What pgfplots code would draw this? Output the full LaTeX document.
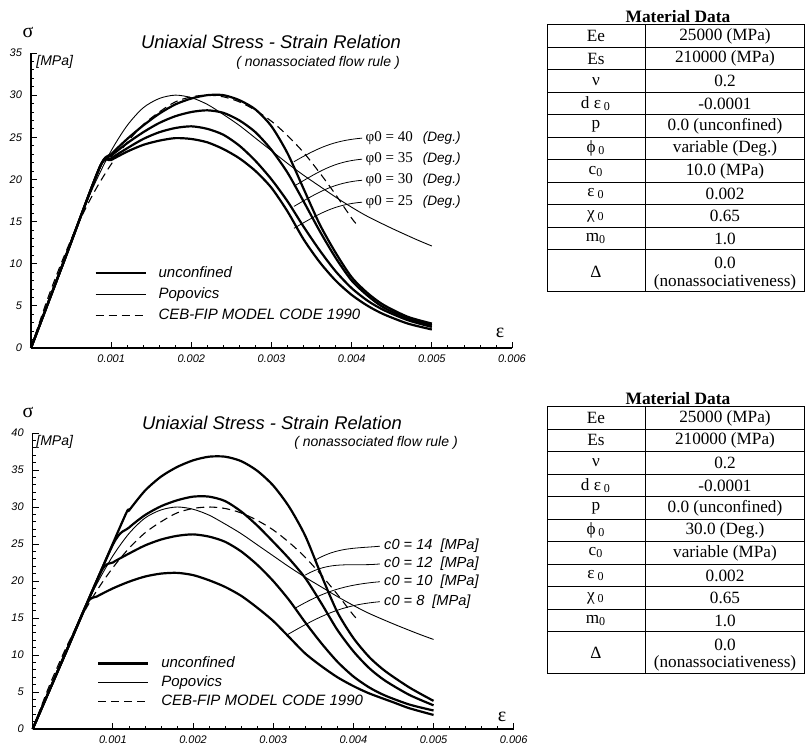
\documentclass[border=0pt]{standalone}
\usepackage{pgfplots}
\pgfplotsset{compat=1.18}
\usepackage{pgfplotstable}
\usepackage{fontspec}
\setmainfont{Liberation Serif}
\setsansfont{Liberation Sans}
\newcommand{\fs}[1]{\fontsize{#1}{#1}\selectfont}

% Popovics and CEB-FIP curves are the same in both panels
\pgfplotstableread{
e s
0 0
0.0002 5.2
0.0004 10.3
0.0006 15.2
0.0008 19.6
0.001 23.4
0.0012 26.4
0.0014 28.5
0.0016 29.6
0.0018 30.0
0.002 29.7
0.0022 28.9
0.0024 27.7
0.0026 26.4
0.0028 24.9
0.003 23.4
0.0032 21.9
0.0034 20.5
0.0036 19.2
0.0038 17.9
0.004 16.7
0.0042 15.6
0.0045 14.2
0.0048 12.9
0.005 12.1
}\popovics

\pgfplotstableread{
e s
0 0
0.0002 5.65
0.0004 10.6
0.0006 15.0
0.0008 18.7
0.001 21.8
0.0012 24.4
0.0014 26.5
0.0016 28.0
0.0018 29.2
0.002 29.8
0.0022 30.0
0.0024 29.8
0.0026 29.2
0.0028 28.2
0.003 26.9
0.0032 25.2
0.0034 23.2
0.0036 20.8
0.0038 18.2
0.004 15.4
0.00407 14.6
}\cebfip

\tikzset{lead/.style={black, line width=0.4pt}}
\pgfplotsset{
  stressaxis/.style={
    scale only axis, width=240.5pt,
    xmin=0, xmax=0.006, ymin=0,
    axis lines=left, axis line style={-, line width=0.6pt},
    xtick={0.001,0.002,0.003,0.004,0.005,0.006},
    xticklabels={0.001,0.002,0.003,0.004,0.005,0.006},
    scaled x ticks=false,
    minor x tick num=4, minor y tick num=4,
    tick align=inside,
    tick style={black, line width=0.4pt},
    major tick length=3pt, minor tick length=1.5pt,
    ticklabel style={font=\sffamily\itshape\fs{5.5}},
    yticklabel style={xshift=-1pt},
    clip=false,
    legend style={draw=none, fill=none, inner sep=0pt,
      font=\sffamily\itshape\fs{7.5},
      nodes={inner sep=1pt, text height=5.5pt, text depth=1.5pt},
      row sep=1.5pt,
      /tikz/every odd column/.append style={column sep=5pt}},
    legend image code/.code={\draw[#1] (0pt,0pt) -- (25pt,0pt);},
    legend cell align=left,
  },
  unconf/.style={black, line width=1.1pt, smooth, tension=0.45},
  popov/.style={black, line width=0.45pt, smooth},
  ceb/.style={black, line width=0.55pt, dash pattern=on 4pt off 2.5pt, smooth},
}

\begin{document}
\begin{tikzpicture}
\useasboundingbox (0,0) rectangle (402.5pt,375.5pt);

% ---------- upper panel: friction angle varies ----------
\begin{axis}[stressaxis, at={(15.5pt,201.5pt)}, anchor=south west,
  height=147.5pt, ymax=35,
  ytick={0,5,10,15,20,25,30,35}, yticklabels={0,5,10,15,20,25,30,35},
  legend style={at={(0.131,0.285)}, anchor=north west}]
% phi0 = 40
\addplot[unconf] coordinates {(0,0) (0.0004,10) (0.00086,21.5) (0.001,23.0) (0.0012,24.8) (0.0014,26.4) (0.0016,27.8) (0.0018,28.9) (0.002,29.6) (0.0022,30.0) (0.0024,30.0) (0.0026,29.4) (0.0028,28.3) (0.003,26.3) (0.0032,23.1) (0.0034,18.9) (0.0036,14.7) (0.0038,11.3) (0.004,8.4) (0.0042,6.5) (0.0044,5.1) (0.0047,3.7) (0.005,2.9)};
\addlegendentry{unconfined}
% phi0 = 35
\addplot[unconf, forget plot] coordinates {(0,0) (0.0004,10) (0.00086,21.5) (0.001,22.8) (0.0012,24.3) (0.0014,25.6) (0.0016,26.7) (0.0018,27.5) (0.002,28.0) (0.0022,28.2) (0.0024,27.9) (0.0026,27.0) (0.0028,25.6) (0.003,23.5) (0.0032,20.8) (0.0034,17.4) (0.0036,13.9) (0.0038,10.7) (0.004,8.0) (0.0042,6.2) (0.0044,4.8) (0.0047,3.5) (0.005,2.7)};
% phi0 = 30
\addplot[unconf, forget plot] coordinates {(0,0) (0.0004,10) (0.00086,21.5) (0.001,22.5) (0.0012,23.7) (0.0014,24.8) (0.0016,25.6) (0.0018,26.1) (0.002,26.3) (0.0022,26.0) (0.0024,25.3) (0.0026,24.0) (0.0028,22.2) (0.003,20.0) (0.0032,17.4) (0.0034,14.4) (0.0036,11.6) (0.0038,9.1) (0.004,7.1) (0.0042,5.6) (0.0044,4.5) (0.0047,3.3) (0.005,2.5)};
% phi0 = 25
\addplot[unconf, forget plot] coordinates {(0,0) (0.0004,10) (0.00086,21.5) (0.001,22.3) (0.0012,23.3) (0.0014,24.1) (0.0016,24.6) (0.0018,24.9) (0.002,24.8) (0.0022,24.4) (0.0024,23.6) (0.0026,22.5) (0.0028,21.0) (0.003,19.0) (0.0032,16.2) (0.0034,12.9) (0.0036,10.2) (0.0038,8.0) (0.004,6.3) (0.0042,5.0) (0.0044,4.0) (0.0047,2.9) (0.005,2.2)};
\addplot[popov] table[x=e, y=s] {\popovics};
\addlegendentry{Popovics}
\addplot[ceb] table[x=e, y=s] {\cebfip};
\addlegendentry{CEB-FIP MODEL CODE 1990}

\foreach \yl/\ye/\ang in {24.9/22.1/40, 22.4/19.2/35, 19.9/16.8/30, 17.3/14.2/25}{
  \edef\tmp{\noexpand\draw[lead] (axis cs:0.00328,\ye) to[out=30,in=185] (axis cs:0.00413,\yl);
    \noexpand\node[anchor=west, inner sep=0pt] at (axis cs:0.00417,\yl)
      {\noexpand\fs{7.5}φ0 = \ang\noexpand\hspace{5pt}{\noexpand\sffamily\noexpand\itshape\noexpand\fs{6.8}(Deg.)}};}
  \tmp
}
\end{axis}

% ---------- lower panel: cohesion varies ----------
\begin{axis}[stressaxis, at={(16.35pt,11pt)}, anchor=south west,
  height=148pt, ymax=40,
  ytick={0,5,10,15,20,25,30,35,40}, yticklabels={0,5,10,15,20,25,30,35,40},
  legend style={at={(0.133,0.253)}, anchor=north west, row sep=0.5pt}]
% c0 = 14
\addplot[unconf] coordinates {(0,0) (0.0004,10) (0.00113,28.3) (0.0012,29.5) (0.0014,32.2) (0.0016,34.1) (0.0018,35.4) (0.002,36.3) (0.0022,36.8) (0.0024,36.8) (0.0026,36.2) (0.0028,34.9) (0.003,32.9) (0.0032,30.0) (0.0034,26.1) (0.0036,20.8) (0.0038,15.8) (0.004,12.3) (0.0042,9.7) (0.0044,7.8) (0.0047,5.6) (0.005,3.8)};
\addlegendentry{unconfined}
% c0 = 12
\addplot[unconf, forget plot] coordinates {(0,0) (0.0004,10) (0.001,24.9) (0.0012,27.2) (0.0014,28.9) (0.0016,30.1) (0.0018,30.9) (0.002,31.4) (0.0022,31.4) (0.0024,30.8) (0.0026,29.4) (0.0028,27.5) (0.003,25.3) (0.0032,23.0) (0.0034,20.4) (0.0036,17.0) (0.0038,13.4) (0.004,10.5) (0.0042,8.2) (0.0044,6.5) (0.0047,4.6) (0.005,3.2)};
% c0 = 10
\addplot[unconf, forget plot] coordinates {(0,0) (0.0004,10) (0.00085,21.2) (0.001,22.5) (0.0012,23.7) (0.0014,24.8) (0.0016,25.6) (0.0018,26.1) (0.002,26.3) (0.0022,26.0) (0.0024,25.3) (0.0026,24.0) (0.0028,22.2) (0.003,20.0) (0.0032,17.4) (0.0034,14.4) (0.0036,11.6) (0.0038,9.1) (0.004,7.1) (0.0042,5.6) (0.0044,4.5) (0.0047,3.3) (0.005,2.5)};
% c0 = 8
\addplot[unconf, forget plot] coordinates {(0,0) (0.0004,10) (0.00068,17) (0.0008,17.9) (0.001,19.0) (0.0012,19.9) (0.0014,20.6) (0.0016,21.0) (0.0018,21.1) (0.002,20.8) (0.0022,20.1) (0.0024,19.2) (0.0026,18.0) (0.0028,16.4) (0.003,14.6) (0.0032,12.4) (0.0034,10.2) (0.0036,8.5) (0.0038,7.0) (0.004,5.8) (0.0042,4.8) (0.0045,3.6) (0.0047,2.8) (0.005,1.9)};
\addplot[popov] table[x=e, y=s] {\popovics};
\addlegendentry{Popovics}
\addplot[ceb] table[x=e, y=s] {\cebfip};
\addlegendentry{CEB-FIP MODEL CODE 1990}

\foreach \yl/\xe/\ye/\cv in {24.7/0.00352/22.8/14, 22.3/0.0034/20.8/12, 19.9/0.00327/16.3/10, 17.2/0.00317/12.7/8}{
  \edef\tmp{\noexpand\draw[lead] (axis cs:\xe,\ye) to[out=30,in=185] (axis cs:0.00433,\yl);
    \noexpand\node[anchor=west, inner sep=0pt, font=\noexpand\sffamily\noexpand\itshape\noexpand\fs{7.3}] at (axis cs:0.00438,\yl)
      {c0 = \cv\noexpand\hspace{4pt}[MPa]};}
  \tmp
}
\end{axis}

% ---------- titles, axis symbols and data tables (pixel grid of the reference) ----------
\begin{scope}[x=0.5pt, y=-0.5pt, yshift=375.5pt]
  \foreach \dy in {0,380}{
    \node[font=\fs{10}] at (28,32+\dy) {σ};
    \node[anchor=west, inner sep=0pt, font=\sffamily\itshape\fs{7}] at (36,62+\dy) {[MPa]};
  }
  \node[font=\fs{10}] at (500,333) {ε};
  \node[font=\fs{10}] at (502,717) {ε};
  \node[font=\sffamily\itshape\fs{9.2}] at (271,42) {Uniaxial Stress - Strain Relation};
  \node[font=\sffamily\itshape\fs{7}] at (318,63) {( nonassociated flow rule )};
  \node[font=\sffamily\itshape\fs{9.2}] at (272,423) {Uniaxial Stress - Strain Relation};
  \node[font=\sffamily\itshape\fs{7}] at (376,443) {( nonassociated flow rule )};

  \foreach \ty/\phiv/\cv in {25/variable (Deg.)/10.0 (MPa), 406.7/30.0 (Deg.)/variable (MPa)}{
    \node[font=\bfseries\fs{8.7}] at (678,\ty-8) {Material Data};
    \draw[line width=0.5pt] (547,\ty) rectangle (804,\ty+266.7);
    \draw[line width=0.5pt] (645,\ty) -- (645,\ty+266.7);
    \foreach \k in {1,...,10}{\draw[line width=0.5pt] (547,\ty+22.5*\k) -- (804,\ty+22.5*\k);}
    \begin{scope}[every node/.style={font=\fs{8.6}, inner sep=0pt}]
      \node at (596,\ty+11.25) {Ee};               \node at (725,\ty+11.25) {25000 (MPa)};
      \node at (596,\ty+33.75) {Es};               \node at (725,\ty+33.75) {210000 (MPa)};
      \node at (596,\ty+56.25) {ν};                \node at (725,\ty+56.25) {0.2};
      \node at (596,\ty+78.75) {d ε\,\textsubscript{0}}; \node at (725,\ty+78.75) {-0.0001};
      \node at (596,\ty+101.25) {p};               \node at (725,\ty+101.25) {0.0 (unconfined)};
      \node at (596,\ty+123.75) {ϕ\,\textsubscript{0}}; \node at (725,\ty+123.75) {\phiv};
      \node at (596,\ty+146.25) {c\textsubscript{0}};   \node at (725,\ty+146.25) {\cv};
      \node at (596,\ty+168.75) {ε\,\textsubscript{0}}; \node at (725,\ty+168.75) {0.002};
      \node at (596,\ty+191.25) {χ\,\textsubscript{0}}; \node at (725,\ty+191.25) {0.65};
      \node at (596,\ty+213.75) {m\textsubscript{0}};   \node at (725,\ty+213.75) {1.0};
      \node at (596,\ty+246.5) {Δ};
      \node at (725,\ty+238) {0.0};
      \node at (725,\ty+257) {(nonassociativeness)};
    \end{scope}
  }
\end{scope}
\end{tikzpicture}
\end{document}
